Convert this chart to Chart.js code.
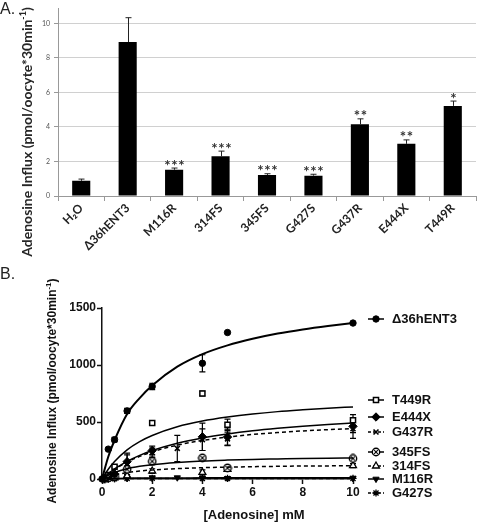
<!DOCTYPE html>
<html><head><meta charset="utf-8">
<script src="https://cdn.jsdelivr.net/npm/chart.js@4.4.0/dist/chart.umd.min.js"></script>
<style>
body{margin:0;background:#fff;width:477px;height:522px;overflow:hidden;position:relative}
#wa{position:absolute;left:0;top:0;width:477px;height:270px}
#wb{position:absolute;left:0;top:255px;width:477px;height:267px}
</style></head><body>
<div id="wa"><canvas id="ca"></canvas></div>
<div id="wb"><canvas id="cb"></canvas></div>
<script>
// ---------- Panel A data ----------
const categories = ['H\u2082O','\u039436hENT3','M116R','314FS','345FS','G427S','G437R','E444X','T449R'];
const influx = [0.88, 8.92, 1.52, 2.30, 1.22, 1.18, 4.15, 3.02, 5.22];
const influxErr = [0.10, 1.41, 0.10, 0.30, 0.07, 0.08, 0.32, 0.23, 0.28];
const significance = ['', '', '***', '***', '***', '***', '**', '**', '*'];
const yTicksA = [0, 2, 4, 6, 8, 10];

// ---------- Panel B data ----------
const curveX = [0, 0.25, 0.5, 1, 1.5, 2, 3, 4, 5, 6, 7, 8, 9, 10];
const fitD36   = [0, 195, 340, 570, 710, 820, 985, 1095, 1172, 1230, 1276, 1312, 1342, 1368];
const fitT449R = [0, 86, 154, 256, 328, 382, 458, 508, 543, 570, 591, 607, 621, 632];
const fitE444X = [0, 47, 88, 155, 207, 250, 314, 360, 395, 423, 445, 463, 478, 491];
const fitG437R = [0, 45, 84, 148, 198, 238, 297, 338, 368, 391, 408, 422, 433, 441];
const fit345FS = [0, 33, 57, 90, 111, 126, 145, 158, 166, 172, 176, 180, 183, 185];
const fit314FS = [0, 21, 36, 56, 70, 79, 91, 99, 104, 108, 111, 114, 115, 117];
const fitM116R = [0, 3, 5, 7, 8, 9, 9, 10, 10, 10, 10, 10, 10, 10];
const fitG427S = [0, 2, 3, 4, 4, 5, 5, 5, 5, 5, 5, 5, 5, 5];

const d36X = [0, 0.25, 0.5, 1, 2, 4, 5, 10];
const d36Y = [0, 262, 345, 597, 812, 1015, 1285, 1368];
const d36E = [0, 12, 20, 22, 28, 75, 0, 0];

const t449X = [0.1, 0.25, 0.5, 2, 4, 5, 10];
const t449Y = [10, 35, 108, 491, 750, 476, 515];
const t449E = [0, 0, 10, 0, 22, 50, 50];

const e444X = [0.1, 0.25, 0.5, 1, 2, 4, 5, 10];
const e444Y = [5, 20, 45, 152, 250, 370, 368, 462];
const e444E = [0, 5, 10, 60, 38, 120, 70, 55];

const g437X = [0.1, 0.25, 0.5, 1, 2, 3, 4, 5, 10];
const g437Y = [5, 15, 40, 132, 232, 268, 345, 352, 441];
const g437E = [0, 0, 10, 95, 40, 115, 95, 60, 85];

const f345X = [0.1, 0.25, 0.5, 1, 2, 4, 5, 10];
const f345Y = [3, 10, 25, 85, 155, 185, 97, 180];
const f345E = [0, 0, 5, 25, 30, 18, 22, 15];

const f314X = [0.1, 0.25, 0.5, 1, 2, 4, 5, 10];
const f314Y = [2, 5, 10, 28, 70, 58, 85, 117];
const f314E = [0, 0, 0, 10, 20, 22, 0, 18];

const m116X = [0.1, 0.25, 0.5, 1, 2, 3, 4, 5, 10];
const m116Y = [0, 2, 4, 8, 12, 12, 10, 6, 8];
const m116E = [0, 0, 0, 0, 8, 0, 0, 12, 0];

const g427X = [0.1, 0.25, 0.5, 1, 2, 4, 5, 10];
const g427Y = [0, 1, 3, 5, 6, 5, 5, 5];
const g427E = [0, 0, 0, 0, 0, 0, 0, 0];

const seriesNames = ['\u039436hENT3','T449R','E444X','G437R','345FS','314FS','M116R','G427S'];

// ---------- helpers ----------
function pts(xs, ys){ return xs.map((x,i)=>({x:x, y:ys[i]})); }

function drawSupText(ctx, cx, cy, rot, main, sup, tail, font, supFont, supRise){
  ctx.save();
  ctx.translate(cx, cy); ctx.rotate(rot);
  ctx.textBaseline = 'middle'; ctx.textAlign = 'left';
  ctx.font = font; const w1 = ctx.measureText(main).width; const w3 = ctx.measureText(tail).width;
  ctx.font = supFont; const w2 = ctx.measureText(sup).width;
  let x = -(w1+w2+w3)/2;
  ctx.font = font; ctx.fillText(main, x, 0); x += w1;
  ctx.font = supFont; ctx.fillText(sup, x, -supRise); x += w2;
  ctx.font = font; ctx.fillText(tail, x, 0);
  ctx.restore();
}

function makeCrossCircle(){
  const c = document.createElement('canvas'); c.width = 10; c.height = 10;
  const g = c.getContext('2d');
  g.fillStyle = '#fff'; g.strokeStyle = '#000'; g.lineWidth = 1.4;
  g.beginPath(); g.arc(5,5,3.7,0,Math.PI*2); g.fill(); g.stroke();
  g.lineWidth = 1.1; g.beginPath();
  g.moveTo(3.2,3.2); g.lineTo(6.8,6.8); g.moveTo(6.8,3.2); g.lineTo(3.2,6.8); g.stroke();
  return c;
}
const crossCircle = makeCrossCircle();

// ---------- Panel A ----------
const pluginA = {
  id: 'pluginA',
  afterDatasetsDraw(chart){
    const ctx = chart.ctx, x = chart.scales.x, y = chart.scales.y;
    ctx.save();
    ctx.strokeStyle = '#222'; ctx.lineWidth = 1;
    categories.forEach((c,i)=>{
      const px = Math.round(x.getPixelForValue(i)) + 0.5;
      const base = y.getPixelForValue(influx[i]);
      const top = y.getPixelForValue(influx[i] + influxErr[i]);
      ctx.beginPath();
      ctx.moveTo(px, base); ctx.lineTo(px, top);
      ctx.moveTo(px-3, top); ctx.lineTo(px+3, top);
      ctx.stroke();
      const s = significance[i];
      if (s){
        ctx.fillStyle = '#333';
        ctx.font = 'bold 15px Lato';
        ctx.textAlign = 'center'; ctx.textBaseline = 'alphabetic';
        for (let k=0;k<s.length;k++){
          const cx = px + (k-(s.length-1)/2)*7;
          ctx.fillText('*', cx, top + 2.5);
        }
      }
    });
    ctx.restore();
  },
  afterDraw(chart){
    const ctx = chart.ctx;
    ctx.save();
    ctx.fillStyle = '#222';
    ctx.font = '16px "Liberation Sans"';
    ctx.textBaseline = 'middle'; ctx.textAlign = 'left';
    ctx.fillText('A.', 0, 10);
    ctx.fillStyle = '#262626';
    drawSupText(ctx, 27, 132, -Math.PI/2, 'Adenosine Influx (pmol/oocyte*30min', '-1', ')',
      'bold 14px Lato', 'bold 9px Lato', 4);
    ctx.restore();
  }
};

new Chart(document.getElementById('ca'), {
  type: 'bar',
  data: { labels: categories, datasets: [{ data: influx, backgroundColor: '#000', borderWidth: 0,
    barPercentage: 0.39, categoryPercentage: 1 }] },
  options: {
    responsive: true, maintainAspectRatio: false, animation: false, devicePixelRatio: 1,
    layout: { padding: { left: 0, right: 1, top: 3, bottom: 0 } },
    plugins: { legend: { display: false }, tooltip: { enabled: false } },
    scales: {
      x: {
        grid: { offset: true, drawOnChartArea: false, tickLength: 5, color: '#999' },
        border: { color: '#999' },
        ticks: { autoSkip: false, maxRotation: 45, minRotation: 45, padding: 0,
          font: { family: 'Lato', weight: 'bold', size: 12 }, color: '#222' },
        afterFit(s){ s.height = 74; }
      },
      y: {
        min: 0, max: 10.88,
        afterBuildTicks(s){ s.ticks = yTicksA.map(v=>({value:v})); },
        ticks: { font: { family: 'Lato', size: 7 }, color: '#555', padding: 4 },
        grid: { color: '#d0d0d0', tickLength: 4, tickColor: '#999' },
        border: { color: '#999' },
        afterFit(s){ s.width = 58; }
      }
    }
  },
  plugins: [pluginA]
});

// ---------- Panel B ----------
const styles = [
  { pointStyle: 'circle', radius: 3.2, bg: '#000', bw: 1, dash: [], lw: 2 },
  { pointStyle: 'rect', radius: 3.6, bg: '#fff', bw: 1.5, dash: [], lw: 1.5 },
  { pointStyle: 'rectRot', radius: 4.2, bg: '#000', bw: 1, dash: [], lw: 1.5 },
  { pointStyle: 'crossRot', radius: 3.5, bg: '#000', bw: 1.6, dash: [4,3], lw: 1.5 },
  { pointStyle: crossCircle, radius: 4, bg: '#fff', bw: 1, dash: [], lw: 1.5 },
  { pointStyle: 'triangle', radius: 4, bg: '#fff', bw: 1.3, dash: [4,3], lw: 1.5 },
  { pointStyle: 'triangle', radius: 3.6, bg: '#000', bw: 1, dash: [], lw: 1.5, rotation: 180 },
  { pointStyle: 'star', radius: 3.6, bg: '#000', bw: 1.3, dash: [4,3], lw: 1.5 }
];
const fits = [fitD36, fitT449R, fitE444X, fitG437R, fit345FS, fit314FS, fitM116R, fitG427S];
const ptsX = [d36X, t449X, e444X, g437X, f345X, f314X, m116X, g427X];
const ptsY = [d36Y, t449Y, e444Y, g437Y, f345Y, f314Y, m116Y, g427Y];
const ptsE = [d36E, t449E, e444E, g437E, f345E, f314E, m116E, g427E];

const datasetsB = [];
fits.forEach((f,i)=>{
  datasetsB.push({ label: seriesNames[i] + ' fit', data: pts(curveX, f), showLine: true,
    borderColor: '#000', borderWidth: styles[i].lw, borderDash: styles[i].dash,
    pointRadius: 0, cubicInterpolationMode: 'monotone', fill: false, clip: false });
});
ptsX.forEach((xs,i)=>{
  const st = styles[i];
  datasetsB.push({ label: seriesNames[i], data: pts(xs, ptsY[i]), errs: ptsE[i], showLine: false,
    pointStyle: st.pointStyle, pointRadius: st.radius, pointRotation: st.rotation || 0,
    backgroundColor: st.bg, borderColor: '#000', borderWidth: st.bw, clip: false });
});

const legendYs = [64, 145, 162, 177, 197, 211, 224, 238];

const pluginB = {
  id: 'pluginB',
  beforeDatasetsDraw(chart){
    const ctx = chart.ctx, x = chart.scales.x, y = chart.scales.y;
    ctx.save();
    ctx.strokeStyle = '#000'; ctx.lineWidth = 1.2;
    chart.data.datasets.forEach(ds=>{
      if (!ds.errs) return;
      ds.data.forEach((p,j)=>{
        const e = ds.errs[j];
        if (!e) return;
        const px = x.getPixelForValue(p.x);
        const t = y.getPixelForValue(p.y + e);
        const b = y.getPixelForValue(Math.max(0, p.y - e));
        ctx.beginPath();
        ctx.moveTo(px, t); ctx.lineTo(px, b);
        ctx.moveTo(px-3, t); ctx.lineTo(px+3, t);
        ctx.moveTo(px-3, b); ctx.lineTo(px+3, b);
        ctx.stroke();
      });
    });
    ctx.restore();
  },
  afterDraw(chart){
    const ctx = chart.ctx;
    ctx.save();
    // legend
    seriesNames.forEach((n,i)=>{
      const st = styles[i], ly = legendYs[i];
      ctx.strokeStyle = '#000'; ctx.lineWidth = 1.5;
      ctx.setLineDash(st.dash.length ? [3,2] : []);
      ctx.beginPath(); ctx.moveTo(368, ly); ctx.lineTo(384, ly); ctx.stroke();
      ctx.setLineDash([]);
      ctx.fillStyle = st.bg; ctx.strokeStyle = '#000'; ctx.lineWidth = st.bw;
      Chart.helpers.drawPoint(ctx, { pointStyle: st.pointStyle, radius: st.radius,
        rotation: st.rotation || 0, borderWidth: st.bw }, 376, ly);
      ctx.fillStyle = '#111';
      ctx.font = 'bold 13px "Liberation Sans"';
      ctx.textAlign = 'left'; ctx.textBaseline = 'middle';
      ctx.fillText(n, 392, ly);
    });
    // panel letter
    ctx.fillStyle = '#222';
    ctx.font = '16px "Liberation Sans"';
    ctx.textAlign = 'left'; ctx.textBaseline = 'middle';
    ctx.fillText('B.', 0, 20);
    // axis titles
    ctx.fillStyle = '#111';
    drawSupText(ctx, 53, 136, -Math.PI/2, 'Adenosine Influx (pmol/oocyte*30min', '-1', ')',
      'bold 12px "Liberation Sans"', 'bold 8px "Liberation Sans"', 4);
    ctx.font = 'bold 13px "Liberation Sans"';
    ctx.textAlign = 'center'; ctx.textBaseline = 'middle';
    ctx.fillText('[Adenosine] mM', 254, 260);
    ctx.restore();
  }
};

new Chart(document.getElementById('cb'), {
  type: 'scatter',
  data: { datasets: datasetsB },
  options: {
    responsive: true, maintainAspectRatio: false, animation: false, devicePixelRatio: 1,
    layout: { padding: { left: 0, right: 124, top: 53, bottom: 0 } },
    plugins: { legend: { display: false }, tooltip: { enabled: false } },
    scales: {
      x: {
        type: 'linear', min: 0, max: 10,
        ticks: { stepSize: 2, padding: 1, color: '#111', callback: v => String(v),
          font: { family: 'Liberation Sans', weight: 'bold', size: 12 } },
        grid: { drawOnChartArea: false, tickLength: 5, tickColor: '#111', tickWidth: 1.5 },
        border: { color: '#111', width: 1.5 },
        afterFit(s){ s.height = 43; }
      },
      y: {
        type: 'linear', min: 0, max: 1500,
        ticks: { stepSize: 500, padding: 1, color: '#111', callback: v => String(v),
          font: { family: 'Liberation Sans', weight: 'bold', size: 12 } },
        grid: { drawOnChartArea: false, tickLength: 5, tickColor: '#111', tickWidth: 1.5 },
        border: { color: '#111', width: 1.5 },
        afterFit(s){ s.width = 102; }
      }
    }
  },
  plugins: [pluginB]
});
</script>
</body></html>
